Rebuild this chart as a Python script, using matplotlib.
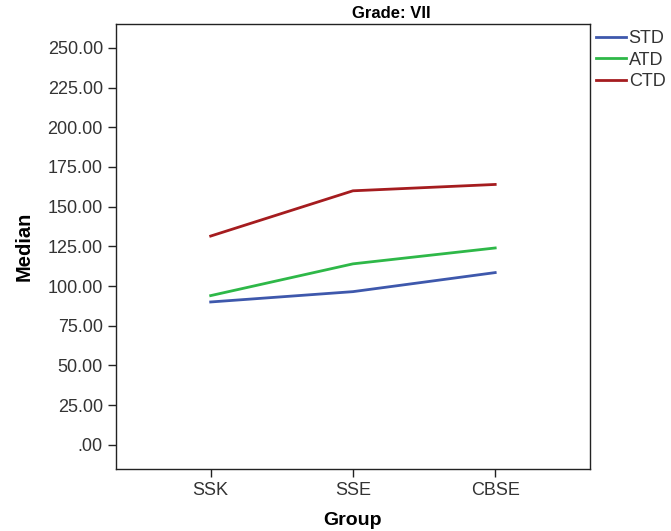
import matplotlib
matplotlib.use("Agg")
import matplotlib.pyplot as plt

plt.rcParams['font.family'] = ['Liberation Sans', 'DejaVu Sans']

groups = ["SSK", "SSE", "CBSE"]
std_vals = [90, 96.5, 108.5]
atd_vals = [94, 114, 124]
ctd_vals = [131.5, 160, 164]
y_ticks = [0, 25, 50, 75, 100, 125, 150, 175, 200, 225, 250]
y_labels = [".00", "25.00", "50.00", "75.00", "100.00", "125.00", "150.00",
            "175.00", "200.00", "225.00", "250.00"]

fig = plt.figure(figsize=(6.71, 5.31), dpi=100)
ax = fig.add_axes([0.173, 0.117, 0.706, 0.838])

x = range(len(groups))
ax.plot(x, std_vals, color="#3E58AC", linewidth=2, label="STD")
ax.plot(x, atd_vals, color="#2EB848", linewidth=2, label="ATD")
ax.plot(x, ctd_vals, color="#A51C1F", linewidth=2, label="CTD")

ax.set_xlim(-0.665, 2.665)
ax.set_ylim(-15.1, 265.1)
ax.set_xticks(list(x))
ax.set_xticklabels(groups)
ax.set_yticks(y_ticks)
ax.set_yticklabels(y_labels)
ax.tick_params(axis="both", direction="out", length=6, width=1, labelsize=13,
               labelcolor="#333333", color="#222222")
for s in ax.spines.values():
    s.set_linewidth(1)
    s.set_color("#222222")

ax.set_xlabel("Group", fontsize=14, fontweight="bold", labelpad=9)
ax.set_ylabel("Median", fontsize=14.5, fontweight="bold", labelpad=10)
# title is centred over the chart plus legend area, as in the original
fig.text(0.583, 0.974, "Grade: VII", fontsize=12, fontweight="bold",
         ha="center", va="center")

ax.legend(loc="upper left", bbox_to_anchor=(1.0, 1.0), frameon=False,
          fontsize=13, handlelength=1.65, handletextpad=0.15, labelspacing=0.25,
          borderaxespad=0.05, borderpad=0.3, labelcolor="#333333")

fig.savefig("out.png", dpi=100)
